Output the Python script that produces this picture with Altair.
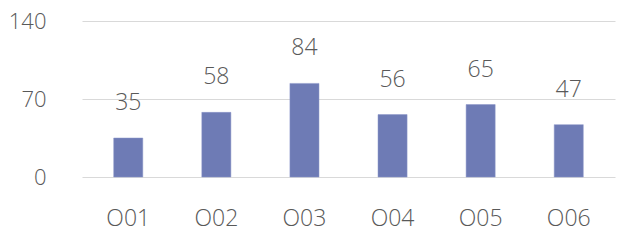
import altair as alt
import pandas as pd

categories = ["O01", "O02", "O03", "O04", "O05", "O06"]
values = [35, 58, 84, 56, 65, 47]

df = pd.DataFrame({"cat": categories, "val": values})

FONT = "Open Sans"
TXT = "#595959"

base = alt.Chart(df).encode(
    x=alt.X("cat:N", sort=categories, title=None,
            scale=alt.Scale(paddingInner=0.67, paddingOuter=0.36),
            axis=alt.Axis(labelAngle=0, labelFontSize=23, labelColor=TXT, labelFont=FONT,
                          labelFontWeight=300, ticks=False, domain=False, labelPadding=30,
                          grid=False)),
    y=alt.Y("val:Q", title=None,
            scale=alt.Scale(domain=[0, 140]),
            axis=alt.Axis(values=[0, 70, 140], labelFontSize=22, labelColor=TXT, labelFont=FONT,
                          labelFontWeight=300, ticks=False, domain=False, labelPadding=36,
                          gridColor="#d9d9d9", gridWidth=1.2)),
)

bars = base.mark_bar(color="#6e7bb5", stroke="#8a95c8", strokeWidth=0.5)
labels = base.mark_text(baseline="alphabetic", dy=-28, fontSize=23, font=FONT,
                        fontWeight=300, color=TXT).encode(text="val:Q")

chart = (bars + labels).properties(
    width=533, height=156,
    background="white",
    autosize=alt.AutoSizeParams(type="none"),
    padding={"left": 74, "top": 13, "right": 2, "bottom": 60},
).configure_view(stroke=None)

chart.save("out.html", embed_options={"renderer": "svg", "actions": False})
